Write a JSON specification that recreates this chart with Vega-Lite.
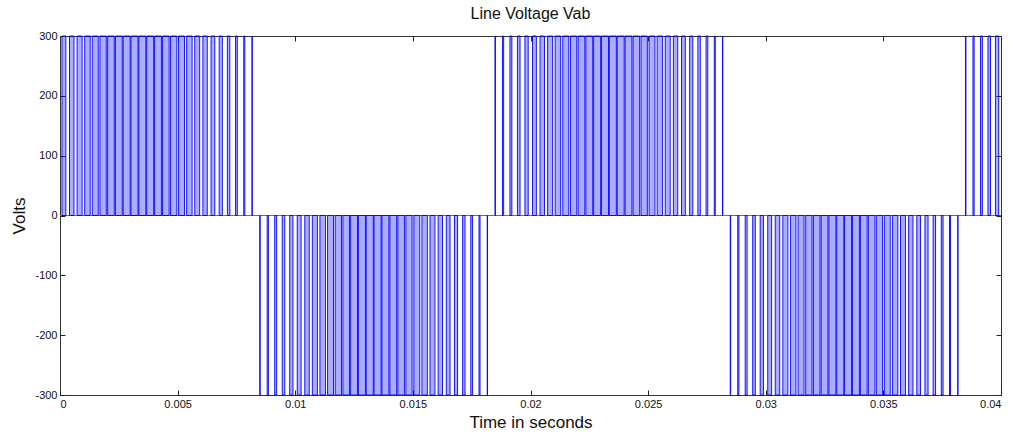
{
"$schema": "https://vega.github.io/schema/vega-lite/v6.json",
"width": 941, "height": 359,
"autosize": {"type": "none"},
"padding": {"left": 60, "top": 36, "right": 15, "bottom": 42},
"background": "white",
"title": {"text": "Line Voltage Vab", "font": "Liberation Sans", "fontSize": 16, "fontWeight": "normal", "color": "#111", "frame": "group", "anchor": "middle", "offset": 8},
"config": {
  "font": "Liberation Sans",
  "view": {"stroke": "#333", "strokeWidth": 1},
  "axis": {"grid": false, "domain": false, "tickColor": "#222", "tickSize": -5, "labelFont": "Liberation Sans", "labelFontSize": 11, "labelColor": "#111", "titleFont": "Liberation Sans", "titleFontSize": 17, "titleFontWeight": "normal", "titleColor": "#111"}
},
"datasets": {
"pulses": [
{"t0":0.0000837,"t1":0.0002497,"v":300},{"t0":0.0004044,"t1":0.0005956,"v":300},{"t0":0.0007261,"t1":0.0009405,"v":300},{"t0":0.0010491,"t1":0.0012843,"v":300},{"t0":0.0013733,"t1":0.0016267,"v":300},{"t0":0.0016989,"t1":0.0019677,"v":300},{"t0":0.0020261,"t1":0.0023073,"v":300},{"t0":0.0023547,"t1":0.0026453,"v":300},{"t0":0.0026849,"t1":0.0029817,"v":300},{"t0":0.0030168,"t1":0.0033166,"v":300},{"t0":0.0033503,"t1":0.0036497,"v":300},{"t0":0.0036854,"t1":0.0039812,"v":300},{"t0":0.0040222,"t1":0.0043112,"v":300},{"t0":0.0043605,"t1":0.0046395,"v":300},{"t0":0.0047003,"t1":0.0049663,"v":300},{"t0":0.0050417,"t1":0.0052917,"v":300},{"t0":0.0053844,"t1":0.0056156,"v":300},{"t0":0.0057283,"t1":0.0059383,"v":300},{"t0":0.0060735,"t1":0.0062599,"v":300},{"t0":0.0064196,"t1":0.0065804,"v":300},{"t0":0.0067666,"t1":0.0069000,"v":300},{"t0":0.0071144,"t1":0.0072190,"v":300},{"t0":0.0074627,"t1":0.0075373,"v":300},{"t0":0.0078114,"t1":0.0078552,"v":300},{"t0":0.0081604,"t1":0.0081730,"v":300},
{"t0":0.0084906,"t1":0.0085094,"v":-300},{"t0":0.0088083,"t1":0.0088583,"v":-300},{"t0":0.0091263,"t1":0.0092071,"v":-300},{"t0":0.0094448,"t1":0.0095552,"v":-300},{"t0":0.0097638,"t1":0.0099028,"v":-300},
{"t0":0.0100837,"t1":0.0102497,"v":-300},{"t0":0.0104044,"t1":0.0105956,"v":-300},{"t0":0.0107261,"t1":0.0109405,"v":-300},{"t0":0.0110491,"t1":0.0112843,"v":-300},{"t0":0.0113733,"t1":0.0116267,"v":-300},{"t0":0.0116989,"t1":0.0119677,"v":-300},{"t0":0.0120261,"t1":0.0123073,"v":-300},{"t0":0.0123547,"t1":0.0126453,"v":-300},{"t0":0.0126849,"t1":0.0129817,"v":-300},{"t0":0.0130168,"t1":0.0133166,"v":-300},{"t0":0.0133503,"t1":0.0136497,"v":-300},{"t0":0.0136854,"t1":0.0139812,"v":-300},{"t0":0.0140222,"t1":0.0143112,"v":-300},{"t0":0.0143605,"t1":0.0146395,"v":-300},{"t0":0.0147003,"t1":0.0149663,"v":-300},{"t0":0.0150417,"t1":0.0152917,"v":-300},{"t0":0.0153844,"t1":0.0156156,"v":-300},{"t0":0.0157283,"t1":0.0159383,"v":-300},{"t0":0.0160735,"t1":0.0162599,"v":-300},{"t0":0.0164196,"t1":0.0165804,"v":-300},{"t0":0.0167666,"t1":0.0169000,"v":-300},{"t0":0.0171144,"t1":0.0172190,"v":-300},{"t0":0.0174627,"t1":0.0175373,"v":-300},{"t0":0.0178114,"t1":0.0178552,"v":-300},{"t0":0.0181604,"t1":0.0181730,"v":-300},
{"t0":0.0184906,"t1":0.0185094,"v":300},{"t0":0.0188083,"t1":0.0188583,"v":300},{"t0":0.0191263,"t1":0.0192071,"v":300},{"t0":0.0194448,"t1":0.0195552,"v":300},{"t0":0.0197638,"t1":0.0199028,"v":300},
{"t0":0.0200837,"t1":0.0202497,"v":300},{"t0":0.0204044,"t1":0.0205956,"v":300},{"t0":0.0207261,"t1":0.0209405,"v":300},{"t0":0.0210491,"t1":0.0212843,"v":300},{"t0":0.0213733,"t1":0.0216267,"v":300},{"t0":0.0216989,"t1":0.0219677,"v":300},{"t0":0.0220261,"t1":0.0223073,"v":300},{"t0":0.0223547,"t1":0.0226453,"v":300},{"t0":0.0226849,"t1":0.0229817,"v":300},{"t0":0.0230168,"t1":0.0233166,"v":300},{"t0":0.0233503,"t1":0.0236497,"v":300},{"t0":0.0236854,"t1":0.0239812,"v":300},{"t0":0.0240222,"t1":0.0243112,"v":300},{"t0":0.0243605,"t1":0.0246395,"v":300},{"t0":0.0247003,"t1":0.0249663,"v":300},{"t0":0.0250417,"t1":0.0252917,"v":300},{"t0":0.0253844,"t1":0.0256156,"v":300},{"t0":0.0257283,"t1":0.0259383,"v":300},{"t0":0.0260735,"t1":0.0262599,"v":300},{"t0":0.0264196,"t1":0.0265804,"v":300},{"t0":0.0267666,"t1":0.0269000,"v":300},{"t0":0.0271144,"t1":0.0272190,"v":300},{"t0":0.0274627,"t1":0.0275373,"v":300},{"t0":0.0278114,"t1":0.0278552,"v":300},{"t0":0.0281604,"t1":0.0281730,"v":300},
{"t0":0.0284906,"t1":0.0285094,"v":-300},{"t0":0.0288083,"t1":0.0288583,"v":-300},{"t0":0.0291263,"t1":0.0292071,"v":-300},{"t0":0.0294448,"t1":0.0295552,"v":-300},{"t0":0.0297638,"t1":0.0299028,"v":-300},
{"t0":0.0300837,"t1":0.0302497,"v":-300},{"t0":0.0304044,"t1":0.0305956,"v":-300},{"t0":0.0307261,"t1":0.0309405,"v":-300},{"t0":0.0310491,"t1":0.0312843,"v":-300},{"t0":0.0313733,"t1":0.0316267,"v":-300},{"t0":0.0316989,"t1":0.0319677,"v":-300},{"t0":0.0320261,"t1":0.0323073,"v":-300},{"t0":0.0323547,"t1":0.0326453,"v":-300},{"t0":0.0326849,"t1":0.0329817,"v":-300},{"t0":0.0330168,"t1":0.0333166,"v":-300},{"t0":0.0333503,"t1":0.0336497,"v":-300},{"t0":0.0336854,"t1":0.0339812,"v":-300},{"t0":0.0340222,"t1":0.0343112,"v":-300},{"t0":0.0343605,"t1":0.0346395,"v":-300},{"t0":0.0347003,"t1":0.0349663,"v":-300},{"t0":0.0350417,"t1":0.0352917,"v":-300},{"t0":0.0353844,"t1":0.0356156,"v":-300},{"t0":0.0357283,"t1":0.0359383,"v":-300},{"t0":0.0360735,"t1":0.0362599,"v":-300},{"t0":0.0364196,"t1":0.0365804,"v":-300},{"t0":0.0367666,"t1":0.0369000,"v":-300},{"t0":0.0371144,"t1":0.0372190,"v":-300},{"t0":0.0374627,"t1":0.0375373,"v":-300},{"t0":0.0378114,"t1":0.0378552,"v":-300},{"t0":0.0381604,"t1":0.0381730,"v":-300},
{"t0":0.0384906,"t1":0.0385094,"v":300},{"t0":0.0388083,"t1":0.0388583,"v":300},{"t0":0.0391263,"t1":0.0392071,"v":300},{"t0":0.0394448,"t1":0.0395552,"v":300},{"t0":0.0397638,"t1":0.0399028,"v":300}
],
"baseline": [{"start": 0, "end": 0.04, "level": 0}]
},
"layer": [
  {
    "data": {"name": "baseline"},
    "mark": {"type": "rule", "color": "#5a5aff", "strokeWidth": 1.2},
    "encoding": {
      "x": {"field": "start", "type": "quantitative", "scale": {"domain": [0, 0.04], "nice": false, "zero": false}, "axis": {"orient": "top", "labels": false, "title": null, "values": [0,0.005,0.01,0.015,0.02,0.025,0.03,0.035,0.04]}},
      "x2": {"field": "end"},
      "y": {"field": "level", "type": "quantitative", "scale": {"domain": [-300, 300], "nice": false}, "axis": {"orient": "right", "labels": false, "title": null, "values": [-300,-200,-100,0,100,200,300]}}
    }
  },
  {
    "data": {"name": "pulses"},
    "mark": {"type": "rect", "stroke": "#0000ff", "strokeWidth": 0.9, "fill": "#0000ff", "fillOpacity": 0.32},
    "encoding": {
      "x": {"field": "t0", "type": "quantitative", "axis": {"orient": "bottom", "values": [0,0.005,0.01,0.015,0.02,0.025,0.03,0.035,0.04], "labelExpr": "toString(datum.value)", "labelPadding": 8, "title": "Time in seconds", "titlePadding": 5}},
      "x2": {"field": "t1"},
      "y": {"field": "v", "type": "quantitative", "axis": {"orient": "left", "values": [-300,-200,-100,0,100,200,300], "labelExpr": "toString(datum.value)", "labelPadding": 8, "title": "Volts", "titlePadding": 6}},
      "y2": {"datum": 0}
    }
  }
],
"resolve": {"axis": {"x": "independent", "y": "independent"}}
}
